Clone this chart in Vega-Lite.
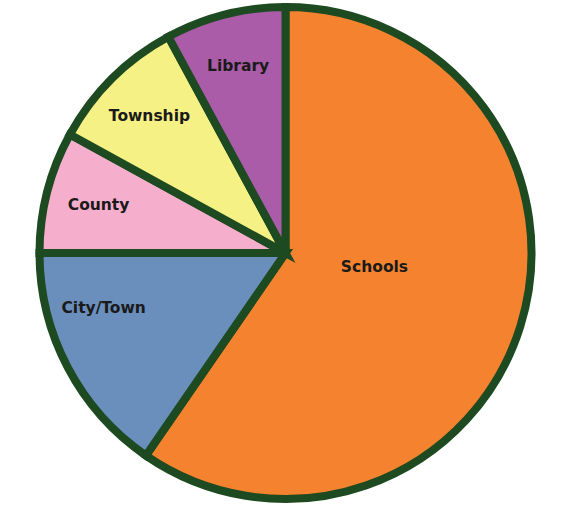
{
  "$schema": "https://vega.github.io/schema/vega-lite/v6.json",
  "autosize": {"type": "fit", "contains": "padding"},
  "width": 567,
  "height": 506,
  "padding": {"left": 4, "right": 0, "top": 0, "bottom": 0},
  "background": "white",
  "view": {"stroke": null},
  "data": {"values": [
    {"category": "Schools", "share": 59.6, "rank": 1},
    {"category": "City/Town", "share": 15.4, "rank": 2},
    {"category": "County", "share": 8.0, "rank": 3},
    {"category": "Township", "share": 9.1, "rank": 4},
    {"category": "Library", "share": 7.9, "rank": 5}
  ]},
  "encoding": {
    "theta": {"field": "share", "type": "quantitative", "stack": true},
    "order": {"field": "rank", "type": "ordinal"}
  },
  "layer": [
    {
      "mark": {"type": "arc", "outerRadius": 246, "stroke": "#1d4a20", "strokeWidth": 8, "strokeJoin": "miter"},
      "encoding": {
        "color": {
          "field": "category", "type": "nominal", "legend": null,
          "scale": {
            "domain": ["Schools", "City/Town", "County", "Township", "Library"],
            "range": ["#f5822f", "#6b8fbc", "#f5aecb", "#f6f184", "#aa5ca9"]
          }
        }
      }
    },
    {
      "mark": {"type": "text", "radius": 90, "thetaOffset": -0.15, "font": "DejaVu Sans", "fontWeight": "bold", "fontSize": 15.5, "color": "#1a1a1a"},
      "encoding": {
        "text": {"condition": {"test": "datum.category === 'Schools'", "field": "category"}, "value": ""}
      }
    },
    {
      "mark": {"type": "text", "radius": 193, "font": "DejaVu Sans", "fontWeight": "bold", "fontSize": 15.5, "color": "#1a1a1a"},
      "encoding": {
        "text": {"condition": {"test": "datum.category === 'County' || datum.category === 'Township' || datum.category === 'Library'", "field": "category"}, "value": ""}
      }
    },
    {
      "mark": {"type": "text", "radius": 190, "thetaOffset": 0.19, "font": "DejaVu Sans", "fontWeight": "bold", "fontSize": 15.5, "color": "#1a1a1a"},
      "encoding": {
        "text": {"condition": {"test": "datum.category === 'City/Town'", "field": "category"}, "value": ""}
      }
    }
  ]
}
